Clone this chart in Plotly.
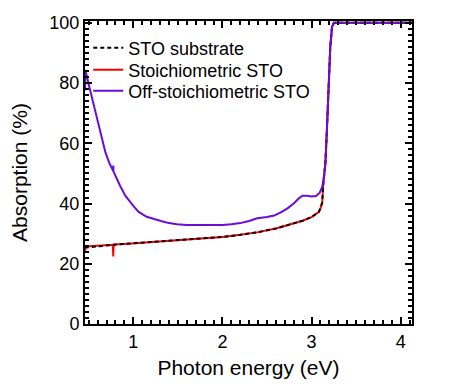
import plotly.graph_objects as go

# photon energy (eV) and absorption (%)
energy_sto = [0.46, 0.465, 0.5, 0.6, 0.7, 0.77, 0.775, 0.776, 0.78, 0.9, 1.0, 1.2, 1.4, 1.6,
              1.8, 2.0, 2.2, 2.4, 2.6, 2.8, 2.9, 3.0, 3.05, 3.08, 3.10, 3.12, 3.13,
              3.14, 3.155, 3.17, 3.19, 3.21, 3.23, 3.25, 3.5, 4.0, 4.13]
substrate = [25.2, 25.4, 25.5, 25.8, 26.1, 26.3, 26.3, 26.3, 26.4, 26.6, 26.8, 27.2, 27.6, 28.0,
             28.4, 28.9, 29.6, 30.5, 31.7, 33.3, 34.3, 35.5, 36.4, 37.2, 38.4, 40.4, 46.0,
             50.0, 53.5, 63.0, 80.0, 92.0, 98.7, 100.0, 100.0, 100.0, 100.0]
stoich = [24.0, 25.7, 25.8, 26.0, 26.2, 26.3, 22.4, 26.3, 26.4, 26.6, 26.8, 27.2, 27.6, 28.0,
          28.4, 28.9, 29.6, 30.5, 31.7, 33.3, 34.3, 35.5, 36.4, 37.2, 38.4, 40.4, 46.0,
          50.0, 53.5, 63.0, 80.0, 92.0, 98.7, 100.0, 100.0, 100.0, 100.0]

energy_off = [0.46, 0.462, 0.5, 0.54, 0.58, 0.613, 0.65, 0.688, 0.73, 0.775, 0.776, 0.777,
              0.85, 0.91, 1.0, 1.06, 1.15, 1.25, 1.32, 1.4, 1.49, 1.6, 1.8, 2.0, 2.1, 2.2,
              2.3, 2.39, 2.5, 2.58, 2.65, 2.73, 2.8, 2.86, 2.9, 2.95, 3.0, 3.05, 3.09, 3.12,
              3.14, 3.155, 3.17, 3.19, 3.21, 3.23, 3.25, 3.5, 4.0, 4.13]
off_stoich = [77.5, 84.4, 79.5, 74.5, 69.8, 65.7, 61.2, 56.9, 53.5, 50.8, 52.6, 50.7,
              46.0, 42.6, 39.2, 37.2, 35.6, 34.6, 34.1, 33.5, 33.1, 32.9, 32.8, 32.9, 33.1, 33.5,
              34.2, 35.1, 35.5, 36.0, 37.0, 38.4, 40.0, 41.8, 42.6, 42.6, 42.3, 42.5, 43.5, 45.5,
              49.0, 53.0, 63.0, 80.0, 92.0, 98.7, 100.0, 100.0, 100.0, 100.0]

font = "Liberation Sans, Arial, sans-serif"

fig = go.Figure()
fig.add_trace(go.Scatter(x=energy_sto, y=stoich, mode="lines", name="Stoichiometric STO",
                         line=dict(color="#ff0000", width=2), legend="legend2", showlegend=True))
fig.add_trace(go.Scatter(x=energy_sto, y=substrate, mode="lines", name="STO substrate",
                         line=dict(color="black", width=2, dash="4px,3px"), legend="legend",
                         showlegend=True))
fig.add_trace(go.Scatter(x=energy_off, y=off_stoich, mode="lines", name="Off-stoichiometric STO",
                         line=dict(color="#6a0dd6", width=2), legend="legend3", showlegend=True))

axis_common = dict(showline=True, linecolor="black", linewidth=2, mirror="ticks",
                   ticks="inside", ticklen=7, tickwidth=2, tickcolor="black",
                   showgrid=False, zeroline=False, automargin=False,
                   tickfont=dict(family=font, size=18, color="black"))

fig.update_xaxes(range=[0.458, 4.127], dtick=1, tick0=0,
                 minor=dict(ticks="inside", dtick=0.1, ticklen=4, tickwidth=1.5, tickcolor="black"),
                 title=dict(text="Photon energy (eV)", font=dict(family=font, size=21, color="black"),
                            standoff=10),
                 **axis_common)
fig.update_yaxes(range=[0, 100.6], dtick=20,
                 minor=dict(ticks="inside", dtick=2, ticklen=4, tickwidth=1.5, tickcolor="black"),
                 title=dict(text="Absorption (%)", font=dict(family=font, size=21, color="black"),
                            standoff=16),
                 **axis_common)

# one legend per entry so the rows sit as tight as in the original
leg = dict(x=0.01, xanchor="left", yanchor="middle", bgcolor="rgba(0,0,0,0)",
           font=dict(family=font, size=18, color="black"))
fig.update_layout(
    width=457, height=389,
    margin=dict(l=85, r=45, t=21, b=65),
    plot_bgcolor="white", paper_bgcolor="white",
    showlegend=True,
    legend=dict(y=0.911, **leg),
    legend2=dict(y=0.838, **leg),
    legend3=dict(y=0.769, **leg),
)

fig.write_html("out.html", config={"displayModeBar": False},
               post_script="document.body.style.margin='0';")
